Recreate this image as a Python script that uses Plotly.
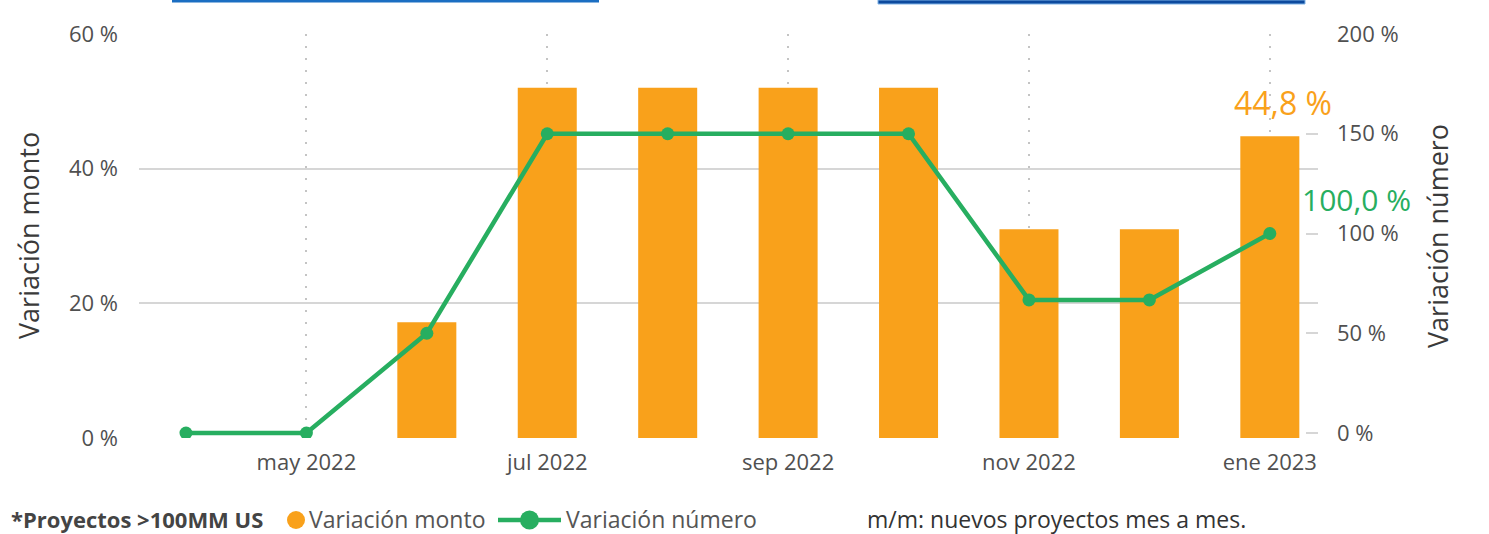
import plotly.graph_objects as go

# Monthly variation of new large projects (m/m)
months = ["abr 2022", "may 2022", "jun 2022", "jul 2022", "ago 2022",
          "sep 2022", "oct 2022", "nov 2022", "dic 2022", "ene 2023"]
variacion_monto = [0, 0, 17.2, 52.0, 52.0, 52.0, 52.0, 31.0, 31.0, 44.8]
variacion_numero = [0, 0, 50.0, 150.0, 150.0, 150.0, 150.0, 66.7, 66.7, 100.0]

tick_months = ["may 2022", "jul 2022", "sep 2022", "nov 2022", "ene 2023"]
left_ticks = [0, 20, 40, 60]
left_ticktext = ["0 %", "20 %", "40 %", "60 %"]
right_ticks = [0, 50, 100, 150, 200]
right_ticktext = ["0 %", "50 %", "100 %", "150 %", "200 %"]

ORANGE = "#F9A11B"
GREEN = "#27AE60"
TEXT = "#505050"
FONT = "Open Sans"

W, H = 1489, 534
ML, MR, MT, MB = 139, 171, 34, 96


def px_x(x):
    return (x - ML) / (W - ML - MR)


def px_y(y):
    return 1 - (y - MT) / (H - MT - MB)


fig = go.Figure()

fig.add_trace(go.Bar(
    x=months, y=variacion_monto, name="Variación monto",
    marker=dict(color=ORANGE, line=dict(width=0)),
    width=0.49, showlegend=False, yaxis="y",
))

fig.add_trace(go.Scatter(
    x=months, y=variacion_numero, name="Variación número",
    mode="lines+markers",
    line=dict(color=GREEN, width=4.5),
    marker=dict(color=GREEN, size=13),
    showlegend=False, yaxis="y2",
))

# value labels on the last month
fig.add_annotation(x=months[-1], y=variacion_monto[-1], yref="y",
                   text=f"{variacion_monto[-1]:.1f} %".replace(".", ","),
                   showarrow=False, xshift=13, yshift=34,
                   font=dict(family=FONT, size=32, color=ORANGE))
fig.add_annotation(x=months[-1], y=variacion_numero[-1], yref="y2",
                   text=f"{variacion_numero[-1]:.1f} %".replace(".", ","),
                   showarrow=False, xshift=87, yshift=34, borderpad=0,
                   font=dict(family=FONT, size=30, color=GREEN))

# axis titles
fig.add_annotation(xref="paper", yref="paper", x=px_x(28), y=px_y(236),
                   xanchor="center", yanchor="middle",
                   text="Variación monto", textangle=-90, showarrow=False,
                   font=dict(family=FONT, size=27, color="#3a3a3a"))
fig.add_annotation(xref="paper", yref="paper", x=px_x(1437), y=px_y(236),
                   xanchor="center", yanchor="middle", borderpad=0,
                   text="Variación número", textangle=-90, showarrow=False,
                   font=dict(family=FONT, size=27, color="#3a3a3a"))

# footer legend
legend_y = px_y(518.5)
fig.add_annotation(xref="paper", yref="paper", x=px_x(10), y=legend_y,
                   xanchor="left", yanchor="middle", borderpad=0,
                   text="<b>*Proyectos >100MM US</b>",
                   showarrow=False, font=dict(family=FONT, size=22, color="#444"))
fig.add_shape(type="circle", xref="paper", yref="paper",
              x0=px_x(287), x1=px_x(305), y0=px_y(529), y1=px_y(511),
              fillcolor=ORANGE, line=dict(width=0))
fig.add_annotation(xref="paper", yref="paper", x=px_x(308), y=legend_y,
                   xanchor="left", yanchor="middle", borderpad=0,
                   text="Variación monto",
                   showarrow=False, font=dict(family=FONT, size=23, color="#555"))
fig.add_shape(type="line", xref="paper", yref="paper",
              x0=px_x(498), x1=px_x(561), y0=px_y(520), y1=px_y(520),
              line=dict(color=GREEN, width=4.5))
fig.add_shape(type="circle", xref="paper", yref="paper",
              x0=px_x(520), x1=px_x(539), y0=px_y(529.5), y1=px_y(510.5),
              fillcolor=GREEN, line=dict(width=0))
fig.add_annotation(xref="paper", yref="paper", x=px_x(565), y=legend_y,
                   xanchor="left", yanchor="middle", borderpad=0,
                   text="Variación número",
                   showarrow=False, font=dict(family=FONT, size=23, color="#555"))
fig.add_annotation(xref="paper", yref="paper", x=px_x(866), y=legend_y,
                   xanchor="left", yanchor="middle", borderpad=0,
                   text="m/m: nuevos proyectos mes a mes.",
                   showarrow=False, font=dict(family=FONT, size=23, color="#333"))

# thin blue rules along the top edge
fig.add_shape(type="rect", xref="paper", yref="paper",
              x0=px_x(172), x1=px_x(599), y0=px_y(0), y1=px_y(2.5),
              fillcolor="#1B6EC2", line=dict(width=0))
fig.add_shape(type="rect", xref="paper", yref="paper",
              x0=px_x(878), x1=px_x(1305), y0=px_y(0), y1=px_y(4),
              fillcolor="#0D4A9E", line=dict(color="#7FB2E6", width=1))

fig.update_layout(
    width=W, height=H,
    margin=dict(l=ML, r=MR, t=MT, b=MB, pad=0),
    paper_bgcolor="white", plot_bgcolor="white",
    font=dict(family=FONT, size=22, color=TEXT),
    bargap=0.51,
    xaxis=dict(
        type="category", range=[-0.39, 9.4],
        tickmode="array", tickvals=tick_months, ticktext=tick_months,
        showgrid=True, gridcolor="#c4c4c4", gridwidth=2, griddash="2px,10px",
        showline=False, zeroline=False, ticks="",
        ticklabelstandoff=9,
        tickfont=dict(family=FONT, size=22, color=TEXT),
    ),
    yaxis=dict(
        range=[0, 60], tickvals=left_ticks, ticktext=left_ticktext,
        showgrid=True, gridcolor="#d6d6d6", gridwidth=2,
        zeroline=False, showline=False, ticks="",
        ticklabelstandoff=20,
        tickfont=dict(family=FONT, size=22, color=TEXT),
    ),
    yaxis2=dict(
        overlaying="y", side="right",
        range=[-2.5, 200], tickvals=right_ticks, ticktext=right_ticktext,
        showgrid=False, zeroline=False, showline=False,
        ticks="inside", ticklen=12, tickwidth=2, tickcolor="#d6d6d6",
        ticklabelstandoff=18,
        tickfont=dict(family=FONT, size=22, color=TEXT),
    ),
)

fig.write_html("out.html")
